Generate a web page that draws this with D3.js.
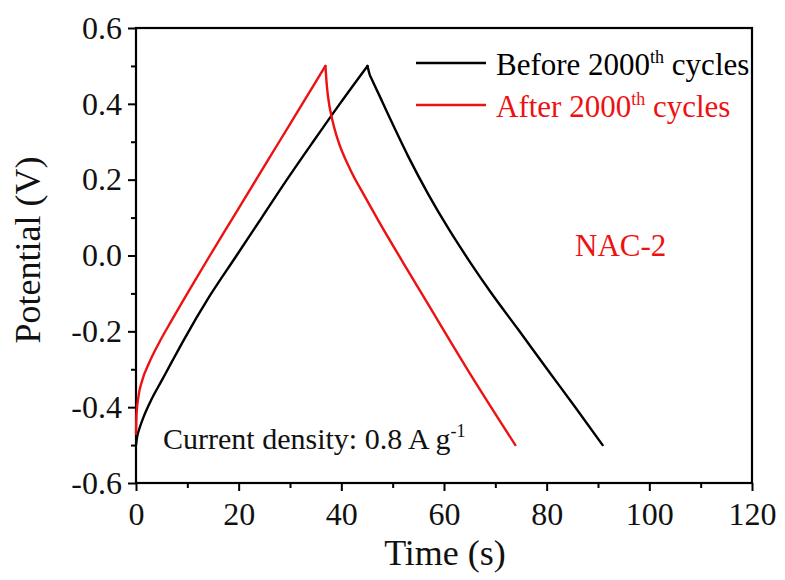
<!DOCTYPE html>
<html>
<head>
<meta charset="utf-8">
<script src="https://d3js.org/d3.v7.min.js"></script>
<style>
	body { margin:0; background:#fff; }
	svg text { font-family:"Liberation Serif","Times New Roman",serif; }
</style>
</head>
<body>
<script>
// before 2000th cycles (black)
var beforeTime = [0, 0.2, 0.7, 1.5, 3, 5, 7, 9.3, 14.3, 19.6, 24.5, 29.4, 34.5, 39.7, 45.1,
                  45.5, 46, 48, 50.5, 53, 57, 61, 65, 69, 74.5, 80, 85.5, 90.9];
var beforeV    = [-0.5, -0.48, -0.455, -0.425, -0.38, -0.33, -0.28, -0.223, -0.108, 0.0, 0.1, 0.2, 0.3, 0.4, 0.5,
                  0.478, 0.463, 0.405, 0.332, 0.262, 0.16, 0.068, -0.016, -0.095, -0.196, -0.298, -0.399, -0.5];
// after 2000th cycles (red)
var afterTime = [0, 0.1, 0.5, 1.2, 2.5, 4.5, 7, 10.7, 14.4, 18.9, 23.4, 27.9, 32.4, 36.9,
                 37.1, 37.4, 38.2, 39.2, 41.8, 44.4, 47.3, 52, 56.4, 65, 73.9];
var afterV    = [-0.47, -0.42, -0.37, -0.33, -0.285, -0.23, -0.17, -0.084, 0.0, 0.1, 0.2, 0.3, 0.4, 0.5,
                 0.46, 0.42, 0.36, 0.31, 0.225, 0.16, 0.09, -0.018, -0.117, -0.31, -0.5];

var xTicks = [0, 20, 40, 60, 80, 100, 120];
var yTicks = [-0.6, -0.4, -0.2, 0.0, 0.2, 0.4, 0.6];

var W = 785, H = 580;
var pLeft = 136, pRight = 752, pTop = 28, pBottom = 483;

var svg = d3.select("body").append("svg").attr("width", W).attr("height", H);

var x = d3.scaleLinear().domain([0, 120]).range([pLeft, pRight]);
var y = d3.scaleLinear().domain([-0.6, 0.6]).range([pBottom, pTop]);

// minor ticks
var xMinor = d3.range(10, 120, 20);
var yMinor = d3.range(-0.5, 0.6, 0.2);

svg.append("g")
   .attr("transform", "translate(0," + pBottom + ")")
   .call(d3.axisBottom(x).tickValues(xMinor).tickSize(5).tickFormat(""))
   .call(g => g.select(".domain").remove())
   .selectAll("line").attr("stroke-width", 2);
svg.append("g")
   .attr("transform", "translate(" + pLeft + ",0)")
   .call(d3.axisLeft(y).tickValues(yMinor).tickSize(5).tickFormat(""))
   .call(g => g.select(".domain").remove())
   .selectAll("line").attr("stroke-width", 2);

var xAxis = svg.append("g")
   .attr("transform", "translate(0," + pBottom + ")")
   .call(d3.axisBottom(x).tickValues(xTicks).tickSize(8).tickPadding(11).tickFormat(d3.format("d")));
xAxis.select(".domain").remove();
xAxis.selectAll("line").attr("stroke-width", 2);
xAxis.selectAll("text").attr("font-size", 32).attr("fill", "#111")
     .style("font-family", "'Liberation Serif','Times New Roman',serif");

var fmt = d3.format(".1f");
var yAxis = svg.append("g")
   .attr("transform", "translate(" + pLeft + ",0)")
   .call(d3.axisLeft(y).tickValues(yTicks).tickSize(8).tickPadding(6)
         .tickFormat(d => fmt(d).replace("\u2212", "-")));
yAxis.select(".domain").remove();
yAxis.selectAll("line").attr("stroke-width", 2);
yAxis.selectAll("text").attr("font-size", 32).attr("fill", "#111")
     .style("font-family", "'Liberation Serif','Times New Roman',serif");

// frame
svg.append("rect")
   .attr("x", pLeft).attr("y", pTop)
   .attr("width", pRight - pLeft).attr("height", pBottom - pTop)
   .attr("fill", "none").attr("stroke", "#000").attr("stroke-width", 2.2);

var line = d3.line().curve(d3.curveMonotoneX).x(d => x(d[0])).y(d => y(d[1]));

// charge and discharge branches drawn separately so the peak stays sharp
function drawCurve(times, vals, color) {
	var pts = times.map((t, i) => [t, vals[i]]);
	var k = d3.maxIndex(vals);
	[pts.slice(0, k + 1), pts.slice(k)].forEach(function(seg) {
		svg.append("path").datum(seg).attr("d", line)
		   .attr("fill", "none").attr("stroke", color).attr("stroke-width", 2.4)
		   .attr("stroke-linejoin", "round").attr("stroke-linecap", "round");
	});
}
drawCurve(beforeTime, beforeV, "#000");
drawCurve(afterTime, afterV, "#ee1111");

// legend
var legend = [["Before 2000", "#000", 63], ["After 2000", "#ee1111", 105]];
legend.forEach(function(l) {
	svg.append("line").attr("x1", 416).attr("x2", 486).attr("y1", l[2]).attr("y2", l[2])
	   .attr("stroke", l[1]).attr("stroke-width", 2.4);
	var t = svg.append("text").attr("x", 496).attr("y", l[2] + 12)
	   .attr("font-size", 31).attr("fill", l[1]);
	t.append("tspan").text(l[0]);
	t.append("tspan").attr("font-size", 18).attr("dy", -12).text("th");
	t.append("tspan").attr("dy", 12).text(" cycles");
});

svg.append("text").attr("x", 575).attr("y", 256).attr("font-size", 31)
   .attr("fill", "#ee1111").text("NAC-2");

var cd = svg.append("text").attr("x", 163).attr("y", 449).attr("font-size", 30).attr("fill", "#111");
cd.append("tspan").text("Current density: 0.8 A g");
cd.append("tspan").attr("font-size", 18).attr("dy", -12).text("-1");

// axis titles
svg.append("text").attr("x", 445).attr("y", 565)
   .attr("text-anchor", "middle").attr("font-size", 36).attr("fill", "#111").text("Time (s)");
svg.append("text").attr("transform", "translate(40,250) rotate(-90)")
   .attr("text-anchor", "middle").attr("font-size", 36).attr("fill", "#111").text("Potential (V)");
</script>
</body>
</html>
